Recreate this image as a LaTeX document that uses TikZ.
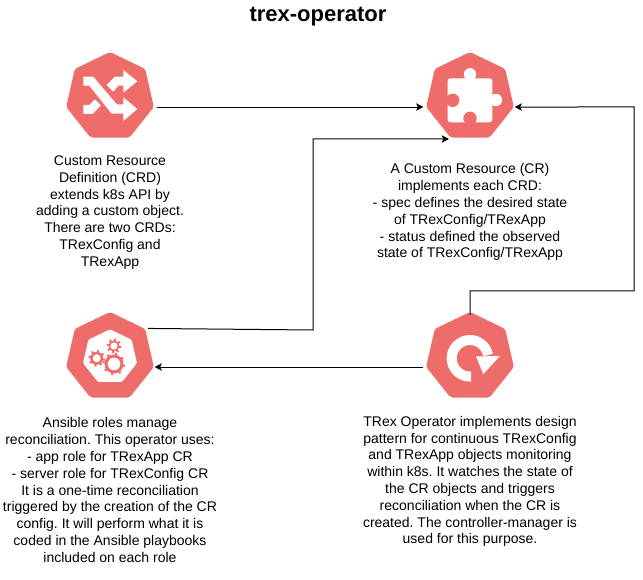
\documentclass[tikz,border=0pt]{standalone}
\usepackage{fontspec}
\setmainfont{Liberation Sans}
\usetikzlibrary{arrows.meta,positioning,shapes.geometric}
\definecolor{kube}{HTML}{EE6D6A}
\tikzset{
    hept/.style={regular polygon,regular polygon sides=7,minimum size=67.5pt,inner sep=0pt,outer sep=0pt,fill=kube,rounded corners=1.5pt},
    desc/.style={align=center,inner sep=0pt,font=\fontsize{10.5}{12.6}\selectfont},
    flow/.style={draw=black,line width=.75pt,-{Stealth[length=5.5pt,width=5.5pt,inset=1.3pt]}}
}
\frenchspacing
\begin{document}
\begin{tikzpicture}[x=.75pt,y=-.75pt,node distance=11pt]
    \useasboundingbox (0,0) rectangle (643,580);
    \node [font=\bfseries\fontsize{16.5}{20}\selectfont] (title) at (318,17) {trex-operator};
    % the four icons
    \node [hept] (crd) at (110,97) {};
    \node [hept] (cr) at (470,97) {};
    \node [hept] (ansible) at (110,357) {};
    \node [hept] (operator) at (470,357) {};
    % shuffle
    \begin{scope}[shift={(crd.center)}]
        \fill [white] (-26.7,-20.3) -- (-16.7,-20.3) -- (6.7,7.3) -- (13.3,7.3) -- (13.3,.3) -- (27.3,12) -- (13.3,24) -- (13.3,16.7) -- (1.7,16.7) -- (-20.7,-11.3) -- (-26.7,-11.3) -- cycle;
        \fill [white] (13.3,-27) -- (27.3,-15.7) -- (13.3,-4.3) -- (13.3,-11.3) -- (8.3,-11.3) -- (3.3,-5.3) -- (-3.3,-12) -- (5,-20.3) -- (13.3,-20.3) -- cycle;
        \fill [white] (-26.7,8) -- (-20.7,8) -- (-15,2.3) -- (-9.3,8.3) -- (-17.3,17) -- (-26.7,17) -- cycle;
    \end{scope}
    % puzzle piece
    \begin{scope}[shift={(cr.center)}]
        \fill [white,rounded corners=2pt] (-22.3,-18.7) rectangle (22.3,25.3);
        \fill [white] (0,-22.7) circle (6.2) (26,3) circle (6.2);
        \fill [kube] (-17.3,3.3) circle (6.7) (0,21.3) circle (6.7);
    \end{scope}
    % gears
    \begin{scope}[shift={(ansible.center)}]
        \node [regular polygon,regular polygon sides=7,minimum size=41.5pt,inner sep=0pt,fill=white,rounded corners=1pt] (gearbox) at (0,0) {};
        \foreach \gx/\gy/\gr/\gw in {-13.3/1.3/6.5/4, 4/7/9.5/6.3, 4/-11/5.5/3.6} {
            \fill [kube] (\gx,\gy) circle (\gr);
            \foreach \a in {0,45,...,315} {
                \draw [kube,line width=1.5pt] (\gx,\gy) ++(\a+10:\gr-1) -- ++(\a+10:2.8);
            }
            \fill [white] (\gx,\gy) circle (\gw);
        }
    \end{scope}
    % refresh
    \begin{scope}[shift={(operator.center)}]
        \draw [white,line width=7.5pt] (1,19.6) -- (0,19.6) arc [start angle=90,end angle=350,radius=18.3];
        \fill [white] (6,-.5) -- (30,-1) -- (13.3,17) -- cycle;
    \end{scope}
    % texts
    \node [desc,below=13.4pt of crd] (crdtext) {Custom Resource\\Definition (CRD)\\extends k8s API by\\adding a custom object.\\There are two CRDs:\\TRexConfig and\\TRexApp};
    \node [desc,below=19.4pt of cr] (crtext) {A Custom Resource (CR)\\implements each CRD:\\- spec defines the desired state\\of TRexConfig/TRexApp\\- status defined the observed\\state of TRexConfig/TRexApp};
    \node [desc,below=14.9pt of ansible] (ansibletext) {Ansible roles manage\\reconciliation. This operator uses:\\- app role for TRexApp CR\\- server role for TRexConfig CR\\It is a one-time reconciliation\\triggered by the creation of the CR\\config. It will perform what it is\\coded in the Ansible playbooks\\included on each role};
    \node [desc,below=13.8pt of operator] (operatortext) {TRex Operator implements design\\pattern for continuous TRexConfig\\and TRexApp objects monitoring\\within k8s. It watches the state of\\the CR objects and triggers\\reconciliation when the CR is\\created. The controller-manager is\\used for this purpose.};
    % connectors
    \draw [flow] ([xshift=2]crd.corner 6) -- ([xshift=-2]cr.corner 3);
    \draw [flow] ([shift={(3,-.5)}]ansible.corner 7) -- (313,330) -- (313,139) -- (449,139);
    \draw [flow] ([yshift=-2]operator.north) -- (470,291) -- (634,291) -- (634,107) -- ([xshift=.5]cr.corner 6);
    \draw [flow] ([xshift=-2]operator.corner 3) -- ([xshift=.5]ansible.corner 6);
\end{tikzpicture}
\end{document}
